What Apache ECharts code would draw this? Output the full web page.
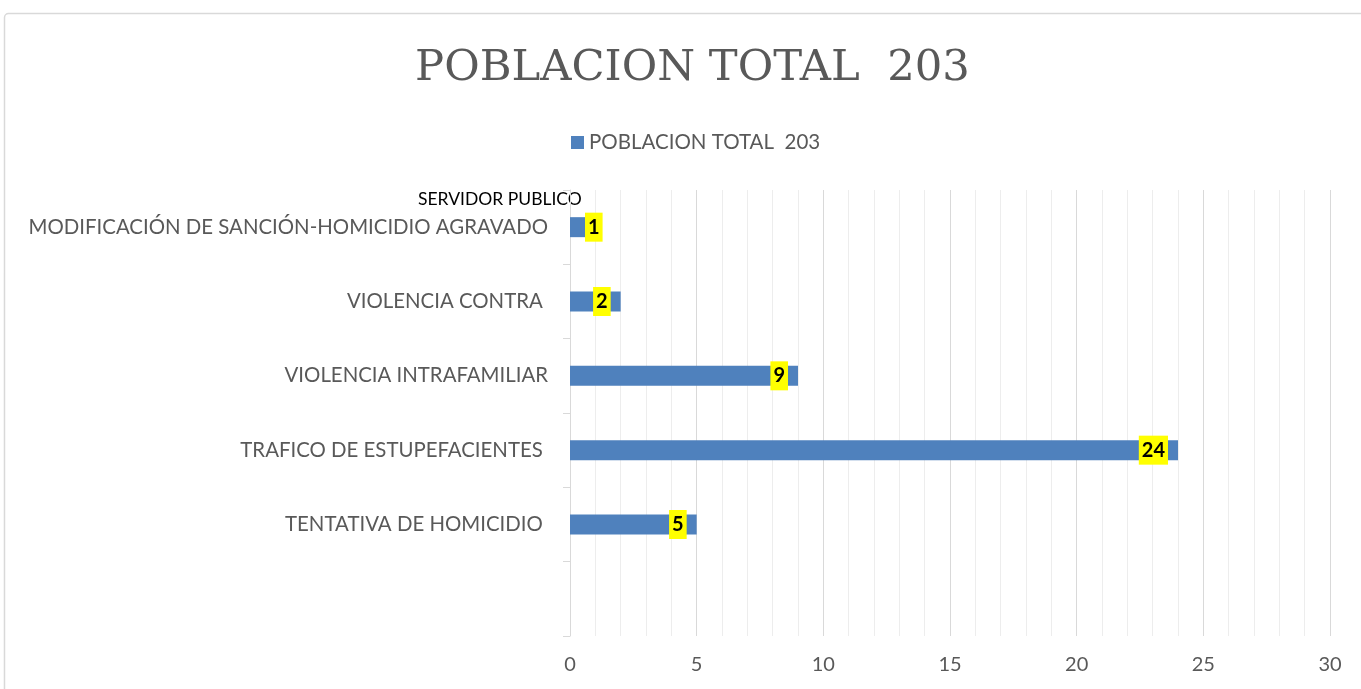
<!DOCTYPE html>
<html>
<head>
<meta charset="utf-8">
<script src="https://cdn.jsdelivr.net/npm/echarts@6/dist/echarts.min.js"></script>
<style>
  html, body { margin: 0; padding: 0; background: #fff; }
  #chart { width: 1361px; height: 689px; }
</style>
</head>
<body>
<div id="chart"></div>
<script>
// Categories listed bottom-to-top (the first slot is left empty)
const categories = [
  '',
  'TENTATIVA DE HOMICIDIO ',
  'TRAFICO DE ESTUPEFACIENTES ',
  'VIOLENCIA INTRAFAMILIAR',
  'VIOLENCIA CONTRA ',
  'MODIFICACIÓN DE SANCIÓN-HOMICIDIO AGRAVADO'
];
const values = [null, 5, 24, 9, 2, 1];
const seriesName = 'POBLACION TOTAL  203';
const titleText = 'POBLACION TOTAL  203';
const extraLabel = 'SERVIDOR PUBLICO';
const xTicks = { min: 0, max: 30, interval: 5 };

const sans = 'Lato, "Open Sans", sans-serif';

const barData = values.map((v, i) => {
  if (v === null) return null;
  const item = { value: v };
  // a short bar cannot hold its label inside, so push it past the start
  if (v < 2) item.label = { position: 'insideLeft', distance: 15 };
  return item;
});

const chart = echarts.init(document.getElementById('chart'));
chart.setOption({
  animation: false,
  backgroundColor: '#ffffff',
  title: {
    text: titleText,
    left: 410,
    top: 42,
    textStyle: { fontFamily: '"DejaVu Serif", "Liberation Serif", serif', fontWeight: 'normal', fontSize: 43.3, color: '#595959' }
  },
  legend: {
    data: [seriesName],
    top: 127,
    left: 566,
    icon: 'rect',
    itemWidth: 13,
    itemHeight: 13,
    itemGap: 7,
    textStyle: { fontFamily: sans, fontSize: 20.5, color: '#595959' }
  },
  graphic: [
    {
      type: 'rect',
      shape: { x: 4.5, y: 13.5, width: 1400, height: 700, r: 4 },
      style: { fill: 'none', stroke: '#d9d9d9', lineWidth: 1.5 },
      silent: true
    },
    {
      type: 'text',
      left: 418,
      top: 190,
      style: { text: extraLabel, font: '17.5px ' + sans, fill: '#000000' }
    }
  ],
  grid: { left: 570, right: 31, top: 190, bottom: 53, containLabel: false },
  xAxis: {
    type: 'value',
    min: xTicks.min,
    max: xTicks.max,
    interval: xTicks.interval,
    axisLine: { show: false },
    axisTick: { show: false },
    axisLabel: { fontFamily: sans, fontSize: 20, color: '#595959', margin: 19 },
    splitLine: { show: true, lineStyle: { color: '#d9d9d9', width: 1 } },
    minorTick: { show: false, splitNumber: 5 },
    minorSplitLine: { show: true, lineStyle: { color: '#ededed', width: 1 } }
  },
  yAxis: {
    type: 'category',
    data: categories,
    axisLine: { show: true, lineStyle: { color: '#d9d9d9', width: 1 } },
    axisTick: { show: true, length: 7, lineStyle: { color: '#d9d9d9' } },
    axisLabel: { fontFamily: sans, fontSize: 20.4, color: '#595959', margin: 22 },
    splitLine: { show: false }
  },
  series: [{
    name: seriesName,
    type: 'bar',
    data: barData,
    barWidth: 20,
    itemStyle: { color: '#4f81bd' },
    label: {
      show: true,
      position: 'insideRight',
      distance: 10,
      fontFamily: sans,
      fontWeight: 'bold',
      fontSize: 20,
      color: '#000000',
      backgroundColor: '#ffff00',
      padding: [5, 3, 4, 3]
    }
  }]
});
</script>
</body>
</html>
